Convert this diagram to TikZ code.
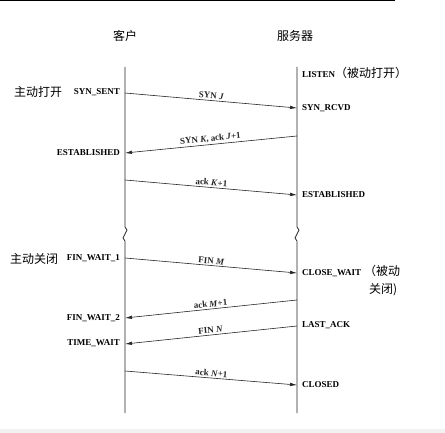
\documentclass[tikz,border=0pt]{standalone}
\usepackage{fontspec}
\setmainfont{Liberation Serif}
\newfontfamily\cjk{Noto Sans CJK SC}
\usetikzlibrary{arrows.meta}
\begin{document}
\begin{tikzpicture}[x=1pt,y=-1pt,
  timeline/.style={line width=0.7pt,black!85},
  msg/.style={line width=0.6pt,black!85,-{Latex[length=7pt,width=3.5pt]}},
  lbl/.style={font=\fontsize{9}{10}\selectfont\bfseries,inner sep=1.5pt,sloped,above},
  cstate/.style={font=\fontsize{9}{10}\selectfont\bfseries,anchor=east,inner sep=0pt},
  sstate/.style={font=\fontsize{9}{10}\selectfont\bfseries,anchor=west,inner sep=0pt},
  cn/.style={font=\cjk\fontsize{12}{14}\selectfont,inner sep=0pt},
]
\useasboundingbox (0,0) rectangle (445,433);
\fill[white] (0,0) rectangle (445,433);
\fill[black!5] (0,429) rectangle (445,433);
\draw[line width=1.3pt] (0,0.7) -- (395,0.7);

% titles
\node[cn] (tc) at (125,36) {客户};
\node[cn] (ts) at (295,36) {服务器};

% timeline coordinates
\coordinate (ctop) at (125,67);
\coordinate (cb1) at (125,227);
\coordinate (cb2) at (127,230);
\coordinate (cb3) at (123,238);
\coordinate (cb4) at (125,241);
\coordinate (cbot) at (125,413);
\coordinate (stop) at (297,67);
\coordinate (sb1) at (297,227);
\coordinate (sb2) at (299,230);
\coordinate (sb3) at (295,238);
\coordinate (sb4) at (297,241);
\coordinate (sbot) at (297,413);
\draw[timeline] (ctop) -- (cb1) -- (cb2) -- (cb3) -- (cb4) -- (cbot);
\draw[timeline] (stop) -- (sb1) -- (sb2) -- (sb3) -- (sb4) -- (sbot);

% message endpoints
\coordinate (c1) at (125,93);  \coordinate (s1) at (297,108);
\coordinate (s2) at (297,136); \coordinate (c2) at (125,153);
\coordinate (c3) at (125,180); \coordinate (s3) at (297,195);
\coordinate (c4) at (125,258); \coordinate (s4) at (297,273);
\coordinate (s5) at (297,300); \coordinate (c5) at (125,318);
\coordinate (s6) at (297,326); \coordinate (c6) at (125,344);
\coordinate (c7) at (125,371); \coordinate (s7) at (297,385);

\draw[msg] (c1) -- node[lbl] {SYN \textit{J}} (s1);
\draw[msg] (s2) -- node[lbl] {SYN \textit{K}, ack \textit{J}+1} (c2);
\draw[msg] (c3) -- node[lbl] {ack \textit{K}+1} (s3);
\draw[msg] (c4) -- node[lbl] {FIN \textit{M}} (s4);
\draw[msg] (s5) -- node[lbl] {ack \textit{M}+1} (c5);
\draw[msg] (s6) -- node[lbl] {FIN \textit{N}} (c6);
\draw[msg] (c7) -- node[lbl] {ack \textit{N}+1} (s7);

% client states
\node[cn,anchor=west] (aopen) at (14,92) {主动打开};
\node[cstate] (synsent) at (120,92) {SYN\_SENT};
\node[cstate] (estc) at (120,153) {ESTABLISHED};
\node[cn,anchor=west] (aclose) at (10,259) {主动关闭};
\node[cstate] (fw1) at (120,258) {FIN\_WAIT\_1};
\node[cstate] (fw2) at (120,318) {FIN\_WAIT\_2};
\node[cstate] (tw) at (120,343) {TIME\_WAIT};

% server states
\node[sstate] (listen) at (302,73) {LISTEN{\cjk\mdseries\fontsize{12}{14}\selectfont （被动打开）}};
\node[sstate] (rcvd) at (302,108) {SYN\_RCVD};
\node[sstate] (ests) at (302,195) {ESTABLISHED};
\node[sstate] (cw) at (302,273) {CLOSE\_WAIT};
\node[cn,anchor=west] (pc1) at (364,271) {（被动};
\node[cn,anchor=west] (pc2) at (369,290) {关闭)};
\node[sstate] (la) at (302,325) {LAST\_ACK};
\node[sstate] (closed) at (302,385) {CLOSED};
\end{tikzpicture}
\end{document}
